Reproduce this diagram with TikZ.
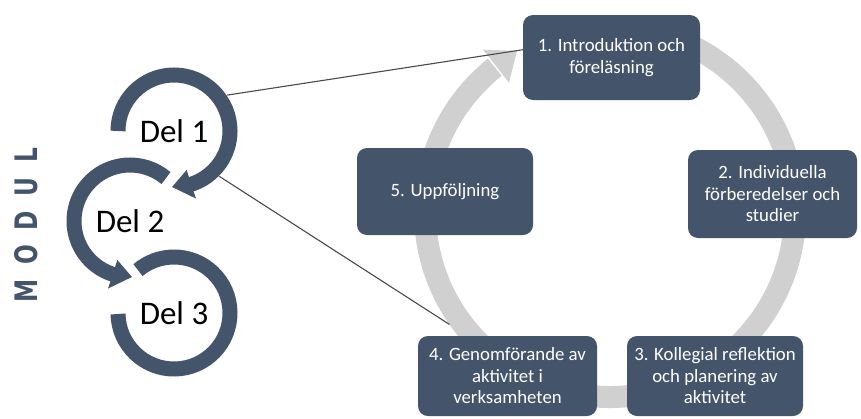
\documentclass[tikz,border=0pt]{standalone}
\usepackage{fontspec}
\usepackage{graphicx}
\setmainfont{Carlito}
\newfontfamily\modulfont{DejaVu Sans}
\definecolor{dkblue}{HTML}{44546A}
\definecolor{ringgray}{HTML}{D0D0D0}
\definecolor{linegray}{HTML}{4A4A4A}
\tikzset{
  stepbox/.style={fill=dkblue, rounded corners=10pt, text=white, align=center,
    font=\fontsize{18.8}{21.5}\selectfont, inner sep=0pt},
  delnode/.style={circle, minimum size=128pt, inner sep=0pt, font=\fontsize{33}{33}\selectfont},
  band/.style={line width=15pt, draw=dkblue},
  bandhead/.style={fill=dkblue},
  ringband/.style={line width=22pt, draw=ringgray},
  link/.style={draw=linegray, line width=1.1pt},
}
\begin{document}
\begin{tikzpicture}[x=1pt,y=1pt]
\useasboundingbox (0,0) rectangle (861,-418);
\fill[white] (0,0) rectangle (861,-418);

% grey cycle ring
\begin{scope}[shift={(610,-212)}]
  \draw[ringband] (100:185) arc[start angle=100, end angle=-231.5, radius=185];
  \fill[ringgray] (128:164) -- (120:186) -- (128:206) -- cycle;
  \coordinate (ringend) at (215:196);
\end{scope}

% module parts
\node[delnode] (del1) at (174,-131) {Del 1};
\node[delnode] (del2) at (130,-221) {Del 2};
\node[delnode] (del3) at (174,-313) {Del 3};

\begin{scope}[shift={(del1.center)}]
  \draw[band] (180:56) arc[start angle=180, end angle=-73, radius=56];
  \fill[bandhead] (-72:41) -- (-92:56) -- (-72:71) -- cycle;
\end{scope}
\begin{scope}[shift={(del2.center)}]
  \draw[band] (50:56) arc[start angle=50, end angle=253, radius=56];
  \fill[bandhead] (252:41) -- (272:56) -- (252:71) -- cycle;
\end{scope}
\begin{scope}[shift={(del3.center)}]
  \draw[band] (181:56) arc[start angle=181, end angle=490, radius=56];
\end{scope}

\node[rotate=90, text=dkblue, font=\modulfont\bfseries\fontsize{31}{31}\selectfont, inner sep=0pt]
  (modul) at (26,-225) {\scalebox{0.75}[1]{M\hspace{19.6pt}O\hspace{19.6pt}D\hspace{19.6pt}U\hspace{19.6pt}L}};

% cycle steps
\node[stepbox, minimum width=177pt, minimum height=85pt] (box1) at (611.5,-57.5)
  {1. Introduktion och\\föreläsning};
\node[stepbox, minimum width=169pt, minimum height=88pt] (box2) at (772.5,-194)
  {2. Individuella\\förberedelser och\\studier};
\node[stepbox, minimum width=176pt, minimum height=80pt] (box3) at (715,-376)
  {3. Kollegial reflektion\\och planering av\\aktivitet};
\node[stepbox, minimum width=179pt, minimum height=80pt] (box4) at (507.5,-376)
  {4. Genomförande av\\aktivitet i\\verksamheten};
\node[stepbox, minimum width=176pt, minimum height=87pt] (box5) at (445,-191.5)
  {5. Uppföljning};

% links from Del 1 to the cycle
\draw[link] (del1.34) -- (box1.175);
\draw[link] (del1.-45) -- (ringend);
\end{tikzpicture}
\end{document}
